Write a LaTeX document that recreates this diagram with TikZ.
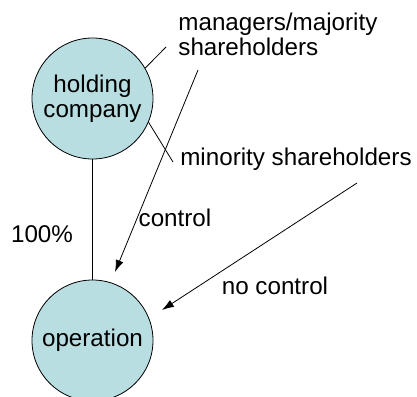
\documentclass[tikz,border=0pt]{standalone}
\usepackage{fontspec}
\setmainfont{Liberation Sans}
\usetikzlibrary{arrows.meta}
\definecolor{firmfill}{RGB}{184,222,226}
\begin{document}
\begin{tikzpicture}[x=0.5pt, y=-0.5pt,
  every node/.style={font=\fontsize{12.1}{12.5}\selectfont},
  firm/.style={circle, draw, fill=firmfill, minimum size=60.5pt, inner sep=0pt, align=center},
  holder/.style={align=left, inner sep=0pt},
  ctrl/.style={-{Latex[length=6pt,width=4pt]}}]
  \useasboundingbox (0,0) rectangle (417,396);

  \node[firm] (holding) at (92.5,98.5) {holding\\company};
  \node[firm] (operation) at (92.5,340.5) {operation};
  \node[holder, anchor=north west] (majority) at (178,13) {managers/majority\\shareholders};
  \node[holder] (minority) at (296,159) {minority shareholders};
  \node (share) at (42,234) {100\%};
  \node (control) at (175,218) {control};
  \node (nocontrol) at (275,286) {no control};

  \coordinate (majend) at (166,47);
  \coordinate (minend) at (173,162);
  \coordinate (ctrlstart) at (198,70);
  \coordinate (ctrlend) at (115,272);
  \coordinate (ncstart) at (357,183);
  \coordinate (ncend) at (162,310);

  \draw (holding) -- (operation);
  \draw (holding.30) -- (majend);
  \draw (holding.-23) -- (minend);
  \draw[ctrl] (ctrlstart) -- (ctrlend);
  \draw[ctrl] (ncstart) -- (ncend);
\end{tikzpicture}
\end{document}
